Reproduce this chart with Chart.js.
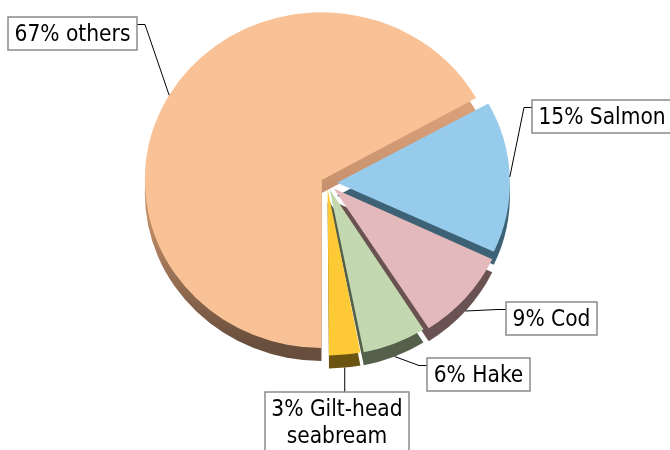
<!DOCTYPE html>
<html>
<head>
<meta charset="utf-8">
<script src="https://cdn.jsdelivr.net/npm/chart.js@4.4.0/dist/chart.umd.min.js"></script>
<style>
html, body { margin: 0; padding: 0; background: #fff; }
#caixa { width: 670px; height: 450px; }
</style>
</head>
<body>
<div id="caixa"><canvas id="grafico" width="670" height="450"></canvas></div>
<script>
// dados
var especies = ['Salmon', 'Cod', 'Hake', 'Gilt-head seabream', 'others'];
var percentuais = [15, 9, 6, 3, 67];
var rotulos = [['15% Salmon'], ['9% Cod'], ['6% Hake'], ['3% Gilt-head', 'seabream'], ['67% others']];

// estilo
var cores = ['#97cbeb', '#e4b9bb', '#c3d8b0', '#fdc935', '#f8c296'];
var coresLado = ['#3e6275', '#6a5252', '#55604b', '#6b5410', '#684e3c'];
var deslocamentos = [40, 36, 28, 24, 24]; // chart.js divide por 4
var caixas = [
    {x: 532, y: 100, lado: 'dir'},
    {x: 506, y: 302, lado: 'dir'},
    {x: 427, y: 358, lado: 'dir'},
    {x: 265, y: 392, lado: 'cima'},
    {x: 8,   y: 17,  lado: 'esq'}
];
var PROF = 13;
var ESCALA_Y = 0.948;
var FONTE = '22.5px "DejaVu Sans Condensed", "DejaVu Sans", sans-serif';

var contexto = document.getElementById("grafico").getContext("2d");

function elipse(ctx, chart){
    var a = chart.getDatasetMeta(0).data[0];
    ctx.translate(a.x, a.y);
    ctx.scale(1, ESCALA_Y);
    ctx.translate(-a.x, -a.y);
}

// ponta da linha de chamada, na borda da fatia
function ponta(a){
    var meio = (a.startAngle + a.endAngle) / 2;
    var off = (a.options.offset || 0) / 4;
    var fix = 1 - Math.sin(Math.min(Math.PI, a.circumference));
    var r = a.outerRadius + off * fix + off;
    var px = a.x + Math.cos(meio) * r;
    var py = a.y + Math.sin(meio) * r * ESCALA_Y;
    if (Math.sin(meio) > 0.3) py += PROF;
    return {x: px, y: py};
}

var pizza3d = {
    id: 'pizza3d',
    beforeDatasetsDraw: function(chart){
        var ctx = chart.ctx;
        var arcos = chart.getDatasetMeta(0).data;
        var a0 = arcos[0];
        ctx.save();
        ctx.translate(0, PROF);
        elipse(ctx, chart);
        arcos.forEach(function(a, i){
            var orig = a.options.backgroundColor;
            var cor = coresLado[i];
            if (i == 4) {
                var g = ctx.createLinearGradient(0, a0.y - 90, 0, a0.y + 160);
                g.addColorStop(0, '#d9a17a');
                g.addColorStop(0.5, '#bd8a66');
                g.addColorStop(1, coresLado[i]);
                cor = g;
            }
            a.options.backgroundColor = cor;
            a.draw(ctx);
            a.options.backgroundColor = orig;
        });
        ctx.restore();
        ctx.save();
        elipse(ctx, chart);
    },
    afterDatasetsDraw: function(chart){
        var ctx = chart.ctx;
        ctx.restore();
        var arcos = chart.getDatasetMeta(0).data;
        ctx.save();
        ctx.font = FONTE;
        arcos.forEach(function(a, i){
            var linhas = rotulos[i];
            var c = caixas[i];
            var larg = 0;
            linhas.forEach(function(t){ larg = Math.max(larg, ctx.measureText(t).width); });
            var w = Math.round(larg + 13);
            var h = linhas.length > 1 ? 62 : 33;
            var p = ponta(a);

            ctx.strokeStyle = '#000';
            ctx.lineWidth = 1;
            ctx.beginPath();
            ctx.moveTo(p.x, p.y);
            if (c.lado == 'dir') {
                ctx.lineTo(c.x - 8, c.y + 7.5);
                ctx.lineTo(c.x, c.y + 7.5);
            } else if (c.lado == 'esq') {
                ctx.lineTo(c.x + w + 8, c.y + 7.5);
                ctx.lineTo(c.x + w, c.y + 7.5);
            } else {
                ctx.lineTo(p.x, c.y);
            }
            ctx.stroke();

            ctx.fillStyle = '#fff';
            ctx.fillRect(c.x, c.y, w, h);
            ctx.strokeStyle = '#8a8a8a';
            ctx.lineWidth = 1.5;
            ctx.strokeRect(c.x, c.y, w, h);

            ctx.fillStyle = '#000';
            ctx.textAlign = 'center';
            ctx.textBaseline = 'middle';
            linhas.forEach(function(t, k){
                ctx.fillText(t, c.x + w / 2, c.y + 18 + k * 27);
            });
        });
        ctx.restore();
    }
};

var grafico = new Chart(contexto, {
    type: 'pie',
    data: {
        labels: especies,
        datasets: [{
            data: percentuais,
            backgroundColor: cores,
            borderWidth: 0,
            offset: deslocamentos,
            clip: false
        }]
    },
    options: {
        responsive: false,
        animation: false,
        events: [],
        rotation: 61,
        radius: 171,
        layout: { padding: { left: 0, right: 16, top: 0, bottom: 84 } },
        plugins: {
            legend: { display: false },
            tooltip: { enabled: false }
        }
    },
    plugins: [pizza3d]
});
</script>
</body>
</html>
